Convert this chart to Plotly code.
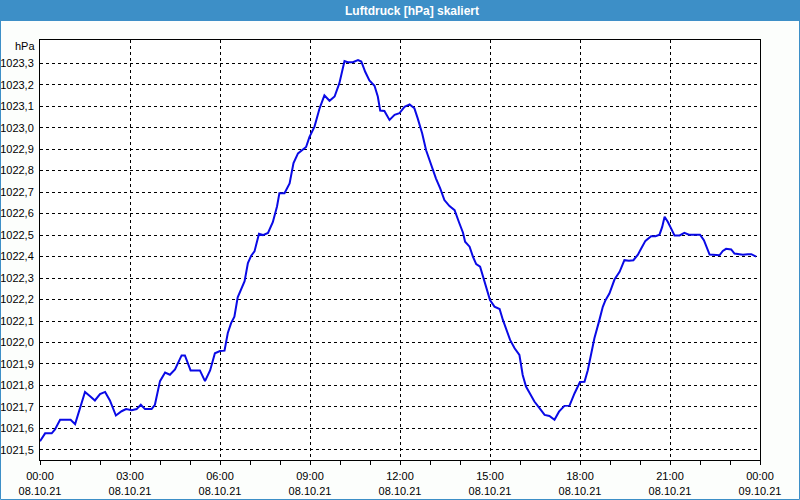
import plotly.graph_objects as go

# hours since 08.10.21 00:00
hours = [0.0, 0.17, 0.39, 0.5, 0.67, 0.89, 1.02, 1.17, 1.33, 1.5, 1.67, 1.83, 2.0, 2.17, 2.33,
         2.53, 2.72, 2.87, 3.06, 3.22, 3.36, 3.5, 3.72, 3.83, 4.0, 4.17, 4.33, 4.5, 4.72, 4.83,
         5.02, 5.33, 5.5, 5.67, 5.83, 6.0, 6.15, 6.26, 6.37, 6.48, 6.59, 6.71, 6.82, 6.93, 7.04,
         7.15, 7.3, 7.43, 7.6, 7.76, 7.9, 7.98, 8.15, 8.32, 8.45, 8.6, 8.74, 8.87, 8.98, 9.15,
         9.32, 9.48, 9.65, 9.82, 9.98, 10.15, 10.26, 10.43, 10.6, 10.71, 10.84, 10.98, 11.15,
         11.26, 11.34, 11.48, 11.65, 11.82, 11.98, 12.15, 12.32, 12.48, 12.59, 12.74, 12.87,
         13.0, 13.09, 13.2, 13.34, 13.48, 13.65, 13.82, 13.96, 14.1, 14.17, 14.32, 14.43, 14.54,
         14.67, 14.78, 14.89, 15.0, 15.15, 15.32, 15.43, 15.54, 15.67, 15.82, 15.98, 16.09,
         16.2, 16.34, 16.48, 16.65, 16.82, 16.98, 17.15, 17.3, 17.48, 17.65, 17.82, 18.0,
         18.15, 18.26, 18.37, 18.48, 18.63, 18.76, 18.85, 18.98, 19.15, 19.32, 19.48, 19.63,
         19.78, 19.93, 20.04, 20.18, 20.37, 20.52, 20.65, 20.74, 20.82, 20.93, 21.04, 21.15,
         21.32, 21.48, 21.63, 22.0, 22.13, 22.23, 22.32, 22.65, 22.76, 22.87, 23.04, 23.15,
         23.43, 23.59, 23.71, 23.87]

pressure = [1021.54, 1021.577, 1021.577, 1021.595, 1021.64, 1021.64, 1021.64, 1021.62, 1021.69,
            1021.77, 1021.75, 1021.73, 1021.76, 1021.77, 1021.73, 1021.66, 1021.68, 1021.69,
            1021.685, 1021.69, 1021.71, 1021.69, 1021.69, 1021.71, 1021.82, 1021.86, 1021.85,
            1021.875, 1021.94, 1021.94, 1021.87, 1021.87, 1021.82, 1021.87, 1021.95, 1021.96,
            1021.962, 1022.044, 1022.09, 1022.12, 1022.21, 1022.246, 1022.285, 1022.37,
            1022.404, 1022.424, 1022.506, 1022.50, 1022.51, 1022.56, 1022.633, 1022.695,
            1022.695, 1022.74, 1022.835, 1022.88, 1022.897, 1022.91, 1022.956, 1023.005,
            1023.09, 1023.15, 1023.125, 1023.145, 1023.207, 1023.31, 1023.305, 1023.305,
            1023.315, 1023.308, 1023.26, 1023.22, 1023.195, 1023.145, 1023.08, 1023.078,
            1023.036, 1023.06, 1023.067, 1023.097, 1023.108, 1023.09, 1023.043, 1022.973,
            1022.895, 1022.84, 1022.81, 1022.763, 1022.717, 1022.663, 1022.635, 1022.616,
            1022.562, 1022.511, 1022.469, 1022.446, 1022.4, 1022.365, 1022.353, 1022.298,
            1022.244, 1022.198, 1022.167, 1022.156, 1022.105, 1022.058, 1022.012, 1021.973,
            1021.942, 1021.849, 1021.795, 1021.76, 1021.725, 1021.694, 1021.663, 1021.658,
            1021.64, 1021.678, 1021.705, 1021.706, 1021.764, 1021.816, 1021.817, 1021.871,
            1021.949, 1022.02, 1022.096, 1022.166, 1022.197, 1022.228, 1022.293, 1022.329,
            1022.383, 1022.38, 1022.383, 1022.409, 1022.437, 1022.473, 1022.495, 1022.495,
            1022.502, 1022.538, 1022.585, 1022.561, 1022.53, 1022.498, 1022.498, 1022.51,
            1022.502, 1022.502, 1022.476, 1022.445, 1022.409, 1022.406, 1022.426, 1022.436,
            1022.433, 1022.414, 1022.408, 1022.411, 1022.411, 1022.4]

x_tickvals = [0, 3, 6, 9, 12, 15, 18, 21, 24]
x_ticktext = ["00:00<br>08.10.21", "03:00<br>08.10.21", "06:00<br>08.10.21",
              "09:00<br>08.10.21", "12:00<br>08.10.21", "15:00<br>08.10.21",
              "18:00<br>08.10.21", "21:00<br>08.10.21", "00:00<br>09.10.21"]
y_tickvals = [1021.5, 1021.6, 1021.7, 1021.8, 1021.9, 1022.0, 1022.1, 1022.2, 1022.3, 1022.4,
              1022.5, 1022.6, 1022.7, 1022.8, 1022.9, 1023.0, 1023.1, 1023.2, 1023.3]
y_ticktext = ["1021,5", "1021,6", "1021,7", "1021,8", "1021,9", "1022,0", "1022,1", "1022,2",
              "1022,3", "1022,4", "1022,5", "1022,6", "1022,7", "1022,8", "1022,9", "1023,0",
              "1023,1", "1023,2", "1023,3"]

title_text = "Luftdruck [hPa] skaliert"
unit_text = "hPa"

W, H = 800, 500
L, R, T, B = 40, 40, 40, 40
pw, ph = W - L - R, H - T - B

def px_x(p):
    return (p - L) / pw

def px_y(p):
    return 1 - (p - T) / ph

FONT = "Liberation Sans"
BAR = "#3d8fc7"
BG = "#fcfefc"

fig = go.Figure()
fig.add_trace(go.Scatter(x=hours, y=pressure, mode="lines",
                         line=dict(color="#0a0ae6", width=2), hoverinfo="skip"))

fig.update_layout(
    width=W, height=H,
    margin=dict(l=L, r=R, t=T, b=B, autoexpand=False),
    paper_bgcolor=BG, plot_bgcolor="#ffffff",
    showlegend=False,
    font=dict(family=FONT, size=11, color="#000000"),
    xaxis=dict(range=[0, 24], tickvals=x_tickvals, ticktext=x_ticktext,
               showgrid=True, gridcolor="#000000", gridwidth=1, griddash="dot",
               showline=True, linecolor="#000000", linewidth=1, mirror=True,
               ticks="outside", ticklen=4, tickcolor="#000000", ticklabelstandoff=2,
               minor=dict(dtick=1, tick0=0, ticks="outside", ticklen=4, tickcolor="#000000",
                          showgrid=False),
               zeroline=False, fixedrange=True, automargin=False),
    yaxis=dict(range=[1021.453, 1023.408], tickvals=y_tickvals, ticktext=y_ticktext,
               showgrid=True, gridcolor="#000000", gridwidth=1, griddash="dot",
               showline=True, linecolor="#000000", linewidth=1, mirror=True,
               ticks="", ticklabelstandoff=3, zeroline=False, fixedrange=True,
               automargin=False),
    shapes=[
        dict(type="rect", xref="paper", yref="paper",
             x0=px_x(0), x1=px_x(W), y0=px_y(21), y1=px_y(0),
             fillcolor=BAR, line=dict(width=0), layer="below"),
        dict(type="rect", xref="paper", yref="paper",
             x0=px_x(0.5), x1=px_x(W - 0.5), y0=px_y(H - 0.5), y1=px_y(0.5),
             line=dict(color=BAR, width=1), fillcolor="rgba(0,0,0,0)"),
    ],
    annotations=[
        dict(text="<b>" + title_text + "</b>", xref="paper", yref="paper",
             x=px_x(412), y=px_y(10.5), xanchor="center", yanchor="middle",
             showarrow=False, font=dict(family=FONT, size=12, color="#ffffff")),
        dict(text=unit_text, xref="paper", yref="paper",
             x=px_x(37), y=px_y(46), xanchor="right", yanchor="middle",
             showarrow=False, font=dict(family=FONT, size=11, color="#000000")),
    ],
)

fig.write_html("out.html")
